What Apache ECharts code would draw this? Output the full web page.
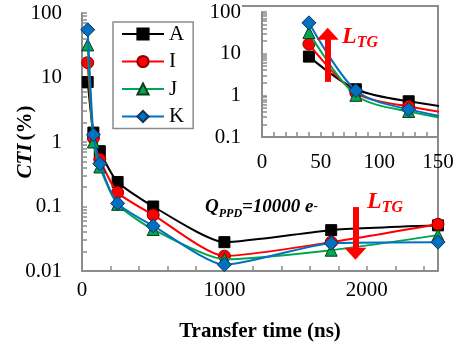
<!DOCTYPE html>
<html>
<head>
<meta charset="utf-8">
<script src="https://cdn.jsdelivr.net/npm/echarts@6/dist/echarts.min.js"></script>
<style>
  html, body { margin: 0; background: #fff; }
  #main { width: 457px; height: 352px; }
</style>
</head>
<body>
<div id="main"></div>
<script>
  // transfer time (ns) and CTI (%)
  var times = [40, 80, 125, 250, 500, 1000, 1750, 2500]
  var ctiA = [8.5, 1.4, 0.72, 0.24, 0.10, 0.028, 0.043, 0.051]
  var ctiI = [17, 1.15, 0.54, 0.165, 0.074, 0.017, 0.028, 0.053]
  var ctiJ = [32, 1.0, 0.41, 0.108, 0.044, 0.0152, 0.021, 0.036]
  var ctiK = [55, 1.3, 0.46, 0.112, 0.050, 0.0125, 0.027, 0.028]

  var mainXTicks = [0, 200, 400, 600, 800, 1000, 1200, 1400, 1600, 1800, 2000, 2200, 2400]
  var mainXLabels = [0, 1000, 2000]
  var insetXTicks = [0, 10, 20, 30, 40, 50, 60, 70, 80, 90, 100, 110, 120, 130, 140, 150]
  var insetXLabels = [0, 50, 100, 150]
  var mainDecades = [0.01, 0.1, 1, 10, 100]
  var insetDecades = [0.1, 1, 10, 100]
  var logSteps = [1, 2, 3, 4, 5, 6, 7, 8, 9]

  // L_TG arrows, in data units
  var arrowMain = [[1920, 0.098], [1920, 0.0185]]
  var arrowInset = [[56, 2.1], [56, 30]]

  var serif = "'Liberation Serif', 'Times New Roman', serif"
  var axisGray = '#8c8c8c'

  function logTicks(decades) {
    var out = []
    decades.forEach(function (d, i) {
      if (i === decades.length - 1) { out.push(d); return }
      logSteps.forEach(function (k) { out.push(d * k) })
    })
    return out
  }

  function pairs(ys) {
    return times.map(function (t, i) { return [t, ys[i]] })
  }

  function plain(v) { return String(v) }

  function line(name, ys, color, border, symbol, size, idx, z) {
    return {
      name: name,
      type: 'line',
      xAxisIndex: idx,
      yAxisIndex: idx,
      data: pairs(ys),
      smooth: idx === 0 ? 0.2 : 0.3,
      symbol: symbol,
      symbolSize: size,
      lineStyle: { color: color, width: 2 },
      itemStyle: { color: color, borderColor: border, borderWidth: 1 },
      z: z
    }
  }

  function arrow(coords, idx) {
    return {
      type: 'line',
      xAxisIndex: idx,
      yAxisIndex: idx,
      data: [],
      z: 10,
      markLine: {
        silent: true,
        z: 10,
        symbol: ['none', 'triangle'],
        symbolSize: [22, 12],
        label: { show: false },
        lineStyle: { color: '#ff0000', width: 6, type: 'solid' },
        itemStyle: { color: '#ff0000' },
        data: [[{ coord: coords[0] }, { coord: coords[1] }]]
      }
    }
  }

  function groupSeries(idx) {
    return [
      line('A', ctiA, '#000000', '#000000', 'rect', 11, idx, 2),
      line('I', ctiI, '#ff0000', '#8b0000', 'circle', 12, idx, 3),
      line('J', ctiJ, '#00a650', '#0b3d1f', 'triangle', 12, idx, 4),
      line('K', ctiK, '#0070c0', '#12315c', 'diamond', 14, idx, 5)
    ]
  }

  var labelFont = { fontFamily: serif, fontSize: 21, color: '#000' }

  var chart = echarts.init(document.getElementById('main'))
  chart.setOption({
    backgroundColor: '#fff',
    animation: false,
    textStyle: { fontFamily: serif },
    grid: [
      { left: 82, right: 19, top: 13, bottom: 81, containLabel: false, outerBoundsMode: 'none' },
      { left: 262, right: 19, top: 12, bottom: 215, containLabel: false, outerBoundsMode: 'none' }
    ],
    legend: {
      orient: 'vertical',
      left: 113,
      top: 22,
      data: ['A', 'I', 'J', 'K'],
      itemWidth: 42,
      itemHeight: 14,
      itemGap: 6.5,
      padding: [1.5, 9, 1.5, 8],
      borderColor: '#8c8c8c',
      borderWidth: 1.5,
      backgroundColor: '#fff',
      textStyle: labelFont
    },
    xAxis: [
      {
        type: 'value', gridIndex: 0, min: 0, max: 2500,
        name: 'Transfer time (ns)', nameLocation: 'middle', nameGap: 50, nameMoveOverlap: false,
        nameTextStyle: { fontFamily: serif, fontSize: 21, fontWeight: 'bold', color: '#000' },
        axisLine: { lineStyle: { color: axisGray, width: 2 } },
        axisTick: { inside: true, length: 5, customValues: mainXTicks, lineStyle: { color: axisGray, width: 1.5 } },
        axisLabel: Object.assign({ customValues: mainXLabels, margin: 9, formatter: plain }, labelFont),
        splitLine: { show: false }
      },
      {
        type: 'value', gridIndex: 1, min: 0, max: 150,
        axisLine: { lineStyle: { color: axisGray, width: 2 } },
        axisTick: { inside: true, length: 5, customValues: insetXTicks, lineStyle: { color: axisGray, width: 1.5 } },
        axisLabel: Object.assign({ customValues: insetXLabels, margin: 15, formatter: plain }, labelFont),
        splitLine: { show: false }
      }
    ],
    yAxis: [
      {
        type: 'log', gridIndex: 0, logBase: 10, min: 0.01, max: 100,
        name: '{b|CTI} {n|(%)}', nameLocation: 'middle', nameGap: 46, nameMoveOverlap: false,
        nameTextStyle: {
          rich: {
            b: { fontFamily: serif, fontSize: 21, fontWeight: 'bold', fontStyle: 'italic', color: '#000' },
            n: { fontFamily: serif, fontSize: 21, fontWeight: 'bold', color: '#000' }
          }
        },
        axisLine: { show: true, lineStyle: { color: axisGray, width: 2 } },
        axisTick: { inside: true, length: 5, customValues: logTicks(mainDecades), lineStyle: { color: axisGray, width: 1.5 } },
        axisLabel: Object.assign({ margin: 20, formatter: plain }, labelFont),
        splitLine: { show: false }
      },
      {
        type: 'log', gridIndex: 1, logBase: 10, min: 0.1, max: 100,
        axisLine: { show: true, lineStyle: { color: axisGray, width: 2 } },
        axisTick: { inside: true, length: 5, customValues: logTicks(insetDecades), lineStyle: { color: axisGray, width: 1.5 } },
        axisLabel: Object.assign({ margin: 21, formatter: plain }, labelFont),
        splitLine: { show: false }
      }
    ],
    graphic: [
      {
        type: 'polyline', silent: true, z: 0,
        shape: { points: [[242, 6], [438, 6], [438, 271]] },
        style: { stroke: axisGray, lineWidth: 2, fill: null }
      },
      {
        type: 'text', left: 205, top: 196, z: 20,
        style: {
          text: '{q|Q}{s|PPD}{q|=10000 e}{p|-}',
          rich: {
            q: { fontFamily: serif, fontSize: 19, fontWeight: 'bold', fontStyle: 'italic', fill: '#000', lineHeight: 22, verticalAlign: 'top' },
            s: { fontFamily: serif, fontSize: 12, fontWeight: 'bold', fontStyle: 'italic', fill: '#000', lineHeight: 12, padding: [12, 0, 0, 0], verticalAlign: 'bottom' },
            p: { fontFamily: serif, fontSize: 13, fontWeight: 'bold', fill: '#000', lineHeight: 13, padding: [2, 0, 0, 0], verticalAlign: 'top' }
          }
        }
      },
      {
        type: 'text', left: 367, top: 186, z: 20,
        style: {
          text: '{l|L}{s|TG}',
          rich: {
            l: { fontFamily: serif, fontSize: 24, fontWeight: 'bold', fontStyle: 'italic', fill: '#ff0000', lineHeight: 26, verticalAlign: 'top' },
            s: { fontFamily: serif, fontSize: 16, fontWeight: 'bold', fontStyle: 'italic', fill: '#ff0000', lineHeight: 16, padding: [14, 0, 0, 0], verticalAlign: 'bottom' }
          }
        }
      },
      {
        type: 'text', left: 342, top: 22, z: 20,
        style: {
          text: '{l|L}{s|TG}',
          rich: {
            l: { fontFamily: serif, fontSize: 24, fontWeight: 'bold', fontStyle: 'italic', fill: '#ff0000', lineHeight: 26, verticalAlign: 'top' },
            s: { fontFamily: serif, fontSize: 16, fontWeight: 'bold', fontStyle: 'italic', fill: '#ff0000', lineHeight: 16, padding: [13, 0, 0, 0], verticalAlign: 'bottom' }
          }
        }
      }
    ],
    series: groupSeries(0)
      .concat(groupSeries(1))
      .concat([arrow(arrowMain, 0), arrow(arrowInset, 1)])
  })
</script>
</body>
</html>
